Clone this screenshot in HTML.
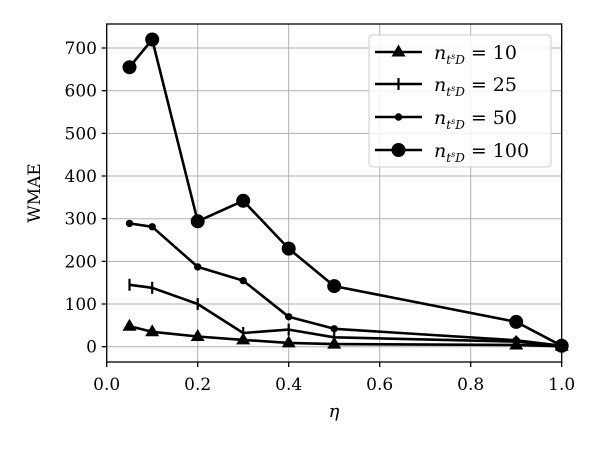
<!DOCTYPE html>
<html><head><style>body{margin:0;background:#fff}svg{display:block}text{font-family:"DejaVu Serif","Liberation Serif",serif;fill:#000}</style></head>
<body>
<svg width="600" height="450" xmlns="http://www.w3.org/2000/svg">
<g stroke="#b0b0b0" stroke-width="1">
<line x1="106.7" y1="24" x2="106.7" y2="362"/><line x1="197.7" y1="24" x2="197.7" y2="362"/><line x1="288.7" y1="24" x2="288.7" y2="362"/><line x1="379.7" y1="24" x2="379.7" y2="362"/><line x1="470.7" y1="24" x2="470.7" y2="362"/>
<line x1="106.7" y1="346.7" x2="561.7" y2="346.7"/><line x1="106.7" y1="304" x2="561.7" y2="304"/><line x1="106.7" y1="261.4" x2="561.7" y2="261.4"/><line x1="106.7" y1="218.7" x2="561.7" y2="218.7"/><line x1="106.7" y1="176" x2="561.7" y2="176"/><line x1="106.7" y1="133.4" x2="561.7" y2="133.4"/><line x1="106.7" y1="90.7" x2="561.7" y2="90.7"/><line x1="106.7" y1="48" x2="561.7" y2="48"/>
</g>
<g fill="none" stroke="#000" stroke-width="2.6" stroke-linejoin="round">
<polyline points="129.5,326.2 152.2,331.8 197.7,336.5 243.2,339.9 288.7,342.9 334.2,344.1 516.2,345 561.7,346.3"/>
<polyline points="129.5,284.8 152.2,287.8 197.7,304 243.2,333 288.7,329.6 334.2,337.3 516.2,341.6 561.7,346.3"/>
<polyline points="129.5,223.4 152.2,226.8 197.7,266.9 243.2,280.6 288.7,316.8 334.2,328.8 516.2,340.3 561.7,345.8"/>
<polyline points="129.5,67.2 152.2,39.5 197.7,221.3 243.2,200.8 288.7,248.6 334.2,286.1 516.2,321.9 561.7,345.8"/>
</g>
<g fill="#000">
<path d="M129.5,318.7l7,12h-14z M152.2,324.3l7,12h-14z M197.7,329l7,12h-14z M243.2,332.4l7,12h-14z M288.7,335.4l7,12h-14z M334.2,336.6l7,12h-14z M516.2,337.5l7,12h-14z M561.7,338.8l7,12h-14z"/>
<circle cx="129.5" cy="223.4" r="3.7"/><circle cx="152.2" cy="226.8" r="3.7"/><circle cx="197.7" cy="266.9" r="3.7"/><circle cx="243.2" cy="280.6" r="3.7"/><circle cx="288.7" cy="316.8" r="3.7"/><circle cx="334.2" cy="328.8" r="3.7"/><circle cx="516.2" cy="340.3" r="3.7"/><circle cx="561.7" cy="345.8" r="3.7"/>
<circle cx="129.5" cy="67.2" r="7"/><circle cx="152.2" cy="39.5" r="7"/><circle cx="197.7" cy="221.3" r="7"/><circle cx="243.2" cy="200.8" r="7"/><circle cx="288.7" cy="248.6" r="7"/><circle cx="334.2" cy="286.1" r="7"/><circle cx="516.2" cy="321.9" r="7"/><circle cx="561.7" cy="345.8" r="7"/>
</g>
<g stroke="#000" stroke-width="2.2">
<path d="M129.5,278.8v12 M152.2,281.8v12 M197.7,298v12 M243.2,327v12 M288.7,323.6v12 M334.2,331.3v12 M516.2,335.6v12 M561.7,340.3v12"/>
</g>
<rect x="106.7" y="24" width="455" height="338" fill="none" stroke="#000" stroke-width="1.3"/>
<g stroke="#000" stroke-width="1.3">
<path d="M106.7,362v5 M197.7,362v5 M288.7,362v5 M379.7,362v5 M470.7,362v5 M561.7,362v5"/>
<path d="M106.7,346.7h-5 M106.7,304h-5 M106.7,261.4h-5 M106.7,218.7h-5 M106.7,176h-5 M106.7,133.4h-5 M106.7,90.7h-5 M106.7,48h-5"/>
</g>
<g font-size="17" text-anchor="middle">
<text x="106.7" y="390">0.0</text><text x="197.7" y="390">0.2</text><text x="288.7" y="390">0.4</text><text x="379.7" y="390">0.6</text><text x="470.7" y="390">0.8</text><text x="561.7" y="390">1.0</text>
</g>
<g font-size="17" text-anchor="end">
<text x="97" y="352.7">0</text><text x="97" y="310">100</text><text x="97" y="267.4">200</text><text x="97" y="224.7">300</text><text x="97" y="182">400</text><text x="97" y="139.4">500</text><text x="97" y="96.7">600</text><text x="97" y="54">700</text>
</g>
<text x="334" y="417" font-size="18" font-style="italic" text-anchor="middle">η</text>
<text transform="translate(40,193) rotate(-90)" font-size="17" text-anchor="middle" font-family="Liberation Serif">WMAE</text>
<rect x="369" y="35" width="182" height="132" rx="4" fill="#fff" fill-opacity="0.85" stroke="#ccc"/>
<g stroke="#000" stroke-width="2.6"><path d="M375,52h47 M375,84h47 M375,117h47 M375,150h47"/><path d="M398.5,78v12" stroke-width="2.2"/></g>
<path d="M398.5,44.5l7,12h-14z" fill="#000"/><circle cx="398.5" cy="117" r="3.7"/><circle cx="398.5" cy="150" r="7"/>
<g font-size="19" font-family="DejaVu Sans,sans-serif">
<text x="434" y="59"><tspan font-style="italic">n</tspan><tspan font-size="12" font-style="italic" dy="5">t<tspan font-size="8" dy="-5">s</tspan><tspan dy="5">D</tspan></tspan><tspan dy="-5"> = 10</tspan></text>
<text x="434" y="91"><tspan font-style="italic">n</tspan><tspan font-size="12" font-style="italic" dy="5">t<tspan font-size="8" dy="-5">s</tspan><tspan dy="5">D</tspan></tspan><tspan dy="-5"> = 25</tspan></text>
<text x="434" y="124"><tspan font-style="italic">n</tspan><tspan font-size="12" font-style="italic" dy="5">t<tspan font-size="8" dy="-5">s</tspan><tspan dy="5">D</tspan></tspan><tspan dy="-5"> = 50</tspan></text>
<text x="434" y="157"><tspan font-style="italic">n</tspan><tspan font-size="12" font-style="italic" dy="5">t<tspan font-size="8" dy="-5">s</tspan><tspan dy="5">D</tspan></tspan><tspan dy="-5"> = 100</tspan></text>
</g>
</svg>
</body></html>
